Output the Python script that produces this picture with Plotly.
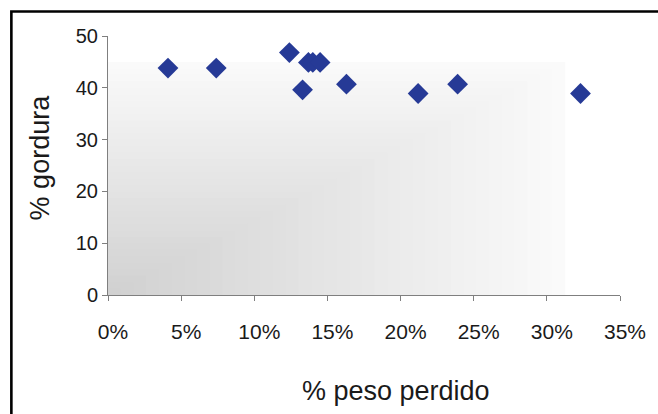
import plotly.graph_objects as go

# Weight lost (fraction) vs body fat (%)
peso_perdido = [0.041, 0.074, 0.124, 0.133, 0.137, 0.140, 0.145, 0.163, 0.212, 0.239, 0.323]
gordura = [43.8, 43.8, 46.8, 39.6, 44.9, 44.9, 44.9, 40.7, 38.9, 40.7, 38.9]

x_ticks = [0, 0.05, 0.10, 0.15, 0.20, 0.25, 0.30, 0.35]
x_ticklabels = ["0%", "5%", "10%", "15%", "20%", "25%", "30%", "35%"]
y_ticks = [0, 10, 20, 30, 40, 50]

FONT = "Liberation Sans, Arial, sans-serif"
TEXT = "#1a1a1a"
AXIS_GREY = "#7f7f7f"

W, H = 658, 414
L, R, T, B = 108, 35, 36, 119
PW, PH = W - L - R, H - T - B


def px_x(px):
    return (px - L) / PW


def px_y(py):
    return (H - B - py) / PH


fig = go.Figure()
fig.add_trace(go.Scatter(
    x=peso_perdido, y=gordura, mode="markers",
    marker=dict(symbol="diamond", size=16, color="#263a96", line=dict(width=0)),
    showlegend=False,
))

# Corner gradient in the plot area: nested rectangles from the bottom-left corner
shapes = []
n_bands = 36
ext_x, ext_y = 0.893, 0.90
c0, c1 = 209, 250
for i in range(n_bands, 0, -1):
    t = i / n_bands
    v = round(c0 + (c1 - c0) * (t - 1 / n_bands) / (1 - 1 / n_bands))
    shapes.append(dict(
        type="rect", xref="x domain", yref="y domain",
        x0=0, y0=0, x1=ext_x * t, y1=ext_y * t,
        fillcolor=f"rgb({v},{v},{v})", line=dict(width=0), layer="below",
    ))

# Outer frame (top and left edges visible)
fx, fy = px_x(10.8), px_y(11.5)
shapes.append(dict(
    type="path", xref="paper", yref="paper",
    path=f"M {fx} {px_y(430)} L {fx} {fy} L {px_x(680)} {fy}",
    line=dict(color="black", width=2.6),
))

annotations = [
    dict(text="% peso perdido", xref="paper", yref="paper",
         x=px_x(398), y=px_y(391), xanchor="center", yanchor="middle",
         showarrow=False, font=dict(size=27, family=FONT, color=TEXT)),
    dict(text="% gordura", xref="paper", yref="paper",
         x=px_x(40), y=px_y(157), xanchor="center", yanchor="middle",
         textangle=-90, showarrow=False, font=dict(size=27, family=FONT, color=TEXT)),
]

fig.update_layout(
    width=W, height=H,
    margin=dict(l=L, r=R, t=T, b=B),
    paper_bgcolor="white", plot_bgcolor="white",
    shapes=shapes, annotations=annotations,
    font=dict(family=FONT, color=TEXT),
    xaxis=dict(
        range=[0, 0.35], tickvals=x_ticks, ticktext=x_ticklabels,
        showgrid=False, zeroline=False, showline=True, linecolor=AXIS_GREY, linewidth=1,
        ticks="outside", ticklen=5, tickcolor=AXIS_GREY, tickwidth=1,
        tickfont=dict(size=21, family=FONT, color=TEXT),
        ticklabelstandoff=13, ticklabelshift=5,
        fixedrange=True,
    ),
    yaxis=dict(
        range=[0, 50], tickvals=y_ticks,
        showgrid=False, zeroline=False, showline=True, linecolor=AXIS_GREY, linewidth=1,
        ticks="outside", ticklen=5, tickcolor=AXIS_GREY, tickwidth=1,
        tickfont=dict(size=20, family=FONT, color=TEXT), ticklabelstandoff=0,
        fixedrange=True,
    ),
)

fig.write_html("out.html", config={"displayModeBar": False})
